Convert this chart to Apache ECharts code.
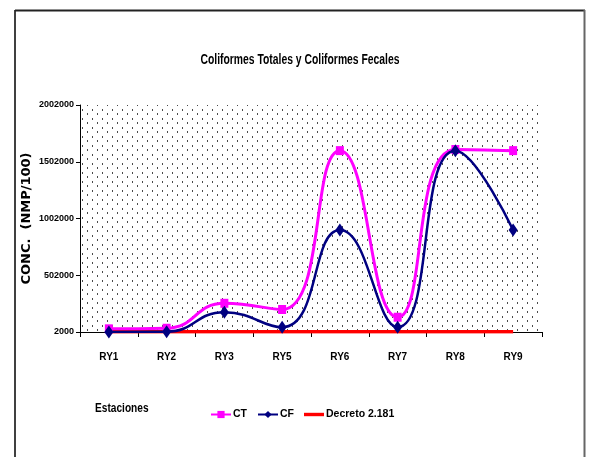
<!DOCTYPE html>
<html>
<head>
<meta charset="utf-8">
<script src="https://cdn.jsdelivr.net/npm/echarts@6/dist/echarts.min.js"></script>
<style>
  html, body { margin: 0; padding: 0; background: #ffffff; }
  #chart { width: 590px; height: 457px; }
</style>
</head>
<body>
<div id="chart"></div>
<script>
// Sampling stations
const stations = ['RY1', 'RY2', 'RY3', 'RY5', 'RY6', 'RY7', 'RY8', 'RY9'];
// Total coliforms (NMP/100)
const ctValues = [30000, 35000, 255000, 200000, 1600000, 132000, 1610000, 1600000];
// Fecal coliforms (NMP/100)
const cfValues = [2000, 5000, 176000, 44000, 900000, 44000, 1600000, 900000];
// Regulatory limit, Decreto 2.181
const decretoValues = [5000, 5000, 5000, 5000, 5000, 5000, 5000, 5000];
// Y axis tick values
const yTicks = [2000, 502000, 1002000, 1502000, 2002000];

const sans = '"Liberation Sans", Arial, sans-serif';

// Dotted fill for the plotting area
function dotPattern() {
  const c = document.createElement('canvas');
  c.width = 10; c.height = 9;
  const g = c.getContext('2d');
  g.fillStyle = '#ffffff';
  g.fillRect(0, 0, 10, 9);
  g.fillStyle = '#4a4a4a';
  g.fillRect(2, 1, 1, 2);
  g.fillRect(7, 5, 1, 2);
  return c;
}

const chart = echarts.init(document.getElementById('chart'), null, { renderer: 'canvas' });

chart.setOption({
  backgroundColor: '#ffffff',
  animation: false,
  legend: {
    left: 205,
    top: 404,
    itemGap: 10,
    itemWidth: 20,
    itemHeight: 9,
    textStyle: { fontFamily: sans, fontWeight: 'bold', fontSize: 10.5, color: '#000', padding: [0, 0, 0, -3] },
    data: [
      { name: 'CT' },
      { name: 'CF' },
      { name: 'Decreto 2.181', icon: 'path://M0,0H20V3.4H0Z' }
    ]
  },
  grid: {
    left: 80,
    right: 48,
    top: 105,
    bottom: 125,
    show: true,
    borderWidth: 0,
    backgroundColor: { image: dotPattern(), repeat: 'repeat' }
  },
  xAxis: {
    type: 'category',
    data: stations,
    boundaryGap: true,
    axisLine: { lineStyle: { color: '#000', width: 1 } },
    axisTick: { show: true, inside: false, length: 5, lineStyle: { color: '#000' } },
    axisLabel: { interval: 0, margin: 20, fontFamily: sans, fontWeight: 'bold', fontSize: 10, color: '#000' },
    splitLine: { show: false }
  },
  yAxis: {
    type: 'value',
    min: 2000,
    max: 2002000,
    name: 'CONC.  (NMP/100)',
    nameLocation: 'middle',
    nameGap: 47,
    nameMoveOverlap: false,
    nameRotate: 90,
    nameTextStyle: { fontFamily: '"DejaVu Sans", Arial, sans-serif', fontWeight: 'bold', fontSize: 13, color: '#000' },
    axisLine: { show: true, lineStyle: { color: '#000', width: 1 } },
    axisTick: { show: true, length: 4, customValues: yTicks, lineStyle: { color: '#000' } },
    axisLabel: {
      customValues: yTicks,
      margin: 6,
      formatter: v => String(v),
      fontFamily: sans, fontWeight: 'bold', fontSize: 9, color: '#000'
    },
    splitLine: { show: false }
  },
  graphic: [
    { type: 'line', shape: { x1: 15, y1: 10, x2: 15, y2: 470 }, style: { stroke: '#000', lineWidth: 1.5 } },
    { type: 'line', shape: { x1: 15, y1: 10.5, x2: 585, y2: 10.5 }, style: { stroke: '#222', lineWidth: 2 } },
    { type: 'line', shape: { x1: 584.5, y1: 10, x2: 584.5, y2: 470 }, style: { stroke: '#666', lineWidth: 2 } },
    {
      type: 'text', x: 300, y: 60, scaleX: 0.74,
      style: {
        text: 'Coliformes Totales y Coliformes Fecales',
        font: 'bold 14px ' + sans, fill: '#000', align: 'center', verticalAlign: 'middle'
      }
    },
    {
      type: 'text', x: 95, y: 408, scaleX: 0.78,
      style: { text: 'Estaciones', font: 'bold 13px ' + sans, fill: '#000', align: 'left', verticalAlign: 'middle' }
    }
  ],
  series: [
    {
      name: 'Decreto 2.181',
      type: 'line',
      data: decretoValues,
      symbol: 'none',
      lineStyle: { color: '#ff0000', width: 3.5 },
      itemStyle: { color: '#ff0000' },
      z: 2
    },
    {
      name: 'CT',
      type: 'line',
      data: ctValues,
      smooth: 0.5,
      symbol: 'rect',
      symbolSize: [8, 9],
      lineStyle: { color: '#ff00ff', width: 3 },
      itemStyle: { color: '#ff00ff' },
      z: 3
    },
    {
      name: 'CF',
      type: 'line',
      data: cfValues,
      smooth: 0.5,
      symbol: 'diamond',
      symbolSize: [9, 13],
      lineStyle: { color: '#000080', width: 2.5 },
      itemStyle: { color: '#000080' },
      z: 4
    }
  ]
});
</script>
</body>
</html>
